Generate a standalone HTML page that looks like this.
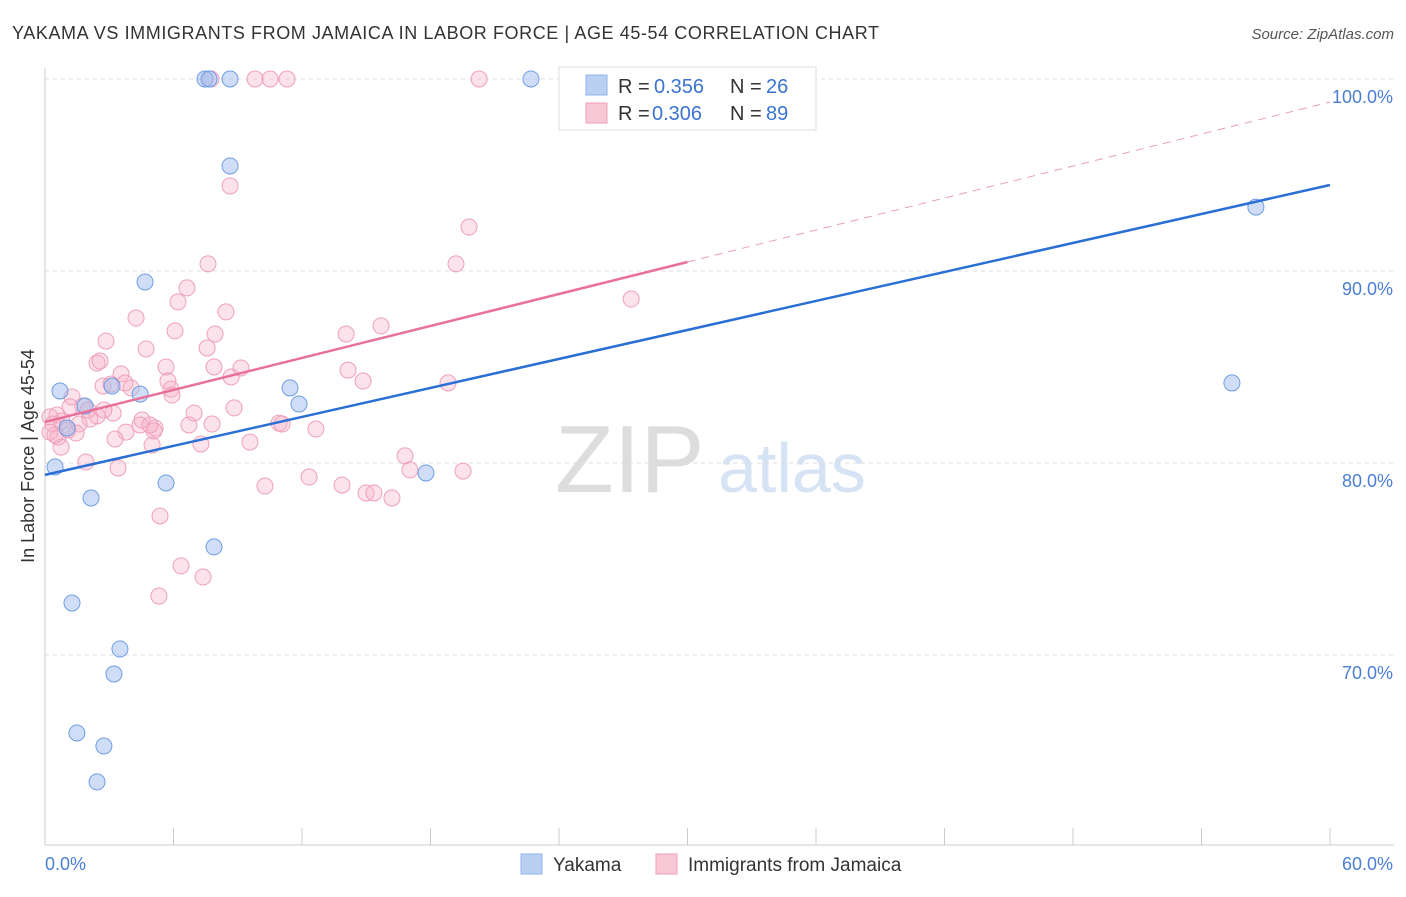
<!DOCTYPE html>
<html><head><meta charset="utf-8"><style>
body{margin:0;background:#fff;font-family:"Liberation Sans",sans-serif}
svg text{font-family:"Liberation Sans",sans-serif}
</style></head><body>
<svg id="c" width="1406" height="892" xmlns="http://www.w3.org/2000/svg">
<text x="12" y="39" font-size="18" fill="#333" textLength="867" lengthAdjust="spacing">YAKAMA VS IMMIGRANTS FROM JAMAICA IN LABOR FORCE | AGE 45-54 CORRELATION CHART</text>
<text x="1394" y="39" font-size="15" fill="#555" text-anchor="end" font-style="italic">Source: ZipAtlas.com</text>
<text x="555" y="492" font-size="96" fill="#ddd" font-family="Liberation Serif">ZIP</text>
<text x="718" y="492" font-size="70" fill="#d6e3f4">atlas</text>
<text transform="translate(34,456) rotate(-90)" font-size="18" fill="#333" text-anchor="middle">In Labor Force | Age 45-54</text>
<g id="grid"></g><g id="marks"></g>
<g>
<rect x="559" y="67" width="257" height="63" fill="#fff" stroke="#ddd"/>
<rect x="586" y="75" width="21" height="20" fill="#b9d0f3" stroke="#8fb3ea"/>
<rect x="586" y="103" width="21" height="20" fill="#f9c8d7" stroke="#ef9fba"/>
<text x="618" y="93" font-size="20" fill="#333">R =</text><text x="654" y="93" font-size="20" fill="#3b73d1">0.356</text>
<text x="730" y="93" font-size="20" fill="#333">N =</text><text x="766" y="93" font-size="20" fill="#3b73d1">26</text>
<text x="618" y="120" font-size="20" fill="#333">R =</text><text x="652" y="120" font-size="20" fill="#3b73d1">0.306</text>
<text x="730" y="120" font-size="20" fill="#333">N =</text><text x="766" y="120" font-size="20" fill="#3b73d1">89</text>
</g>
<g>
<rect x="521" y="854" width="21" height="20" fill="#b9d0f3" stroke="#8fb3ea"/>
<text x="553" y="871" font-size="19" fill="#333">Yakama</text>
<rect x="656" y="854" width="21" height="20" fill="#f9c8d7" stroke="#ef9fba"/>
<text x="688" y="871" font-size="19" fill="#333">Immigrants from Jamaica</text>
</g>
</svg>
<script>
const yTicks=[100,90,80,70];
const xTickLabels=["0.0%","60.0%"];
const blueX=[7.47,7.66,8.64,22.69,8.64,4.67,0.70,11.44,3.13,4.44,1.87,11.86,0.47,17.79,5.65,2.15,7.89,1.26,3.50,3.22,1.49,2.75,2.43,56.54,55.42,1.03];
const blueY=[100,100,100,100,95.47,89.43,83.75,83.91,84.01,83.59,82.97,83.07,79.79,79.48,78.96,78.18,75.63,72.71,70.31,69.01,65.94,65.26,63.39,93.33,84.17,81.82];
const pinkX=[7.75,9.81,10.51,11.30,20.27,8.64,19.80,7.61,19.19,6.63,6.21,27.37,8.45,4.25,15.69,14.06,6.07,7.94,2.85,4.72,7.57,2.43,2.57,5.65,9.15,7.89,14.15,3.55,8.69,14.85,5.74,5.88,3.74,18.82,2.71,4.02,5.93,3.08,1.26,1.77,3.18,1.17,2.01,6.96,8.83,2.43,2.10,4.53,0.56,0.79,4.44,0.23,0.37,1.59,5.14,6.72,7.80,10.93,11.07,12.65,3.78,5.09,1.45,0.61,3.27,9.57,7.28,5.00,0.75,16.81,1.91,3.41,17.04,19.52,12.33,10.27,13.87,14.99,15.36,16.20,5.37,6.35,7.38,5.32,0.23,0.47,1.07,4.90,2.75];
const pinkY=[100,100,100,100,100,94.43,92.29,90.37,90.37,89.12,88.39,88.54,87.87,87.55,87.14,86.72,86.88,86.72,86.35,85.94,85.99,85.21,85.31,85.00,84.95,85.00,84.84,84.64,84.48,84.27,84.27,83.85,84.17,84.17,84.01,83.91,83.54,84.11,83.44,82.97,82.60,82.92,82.76,82.60,82.87,82.45,82.29,82.24,82.50,82.19,81.98,82.40,82.03,82.03,81.82,81.98,82.03,82.08,82.03,81.77,81.61,81.67,81.56,81.35,81.25,81.09,80.99,80.94,80.83,80.37,80.05,79.74,79.64,79.58,79.27,78.80,78.85,78.44,78.44,78.18,77.24,74.64,74.06,73.07,81.61,81.46,81.72,81.98,82.76];
const blueTrend=[79.38,94.48];
const pinkTrend=[82.14,98.8];
const pinkSolidEnd=30;
const NS="http://www.w3.org/2000/svg";
const sx=v=>45+v/60*1285, sy=v=>79+(100-v)*19.2;
function mk(t,a,p){const e=document.createElementNS(NS,t);for(const k in a)e.setAttribute(k,a[k]);p.appendChild(e);return e;}
const grid=document.getElementById('grid'), marks=document.getElementById('marks');
yTicks.forEach(v=>{
 const l=mk('line',{x1:45,x2:1394,y1:sy(v),y2:sy(v),stroke:'#ddd','stroke-dasharray':'4,4'},grid);
 
 
 const t=mk('text',{x:1393,y:sy(v)+24,'font-size':18,fill:'#4a7fd4','text-anchor':'end'},grid);t.textContent=v.toFixed(1)+'%';
 
 
});
mk('line',{x1:45,x2:45,y1:68,y2:845,stroke:'#ccc'},grid);
mk('line',{x1:45,x2:1394,y1:845,y2:845,stroke:'#ccc'},grid);
for(let i=0;i<=10;i++){mk('line',{x1:sx(i*6),x2:sx(i*6),y1:828,y2:845,stroke:'#ccc'},grid);}
let t0=mk('text',{x:45,y:870,'font-size':18,fill:'#4a7fd4'},grid);t0.textContent=xTickLabels[0];


let t1=mk('text',{x:1393,y:870,'font-size':18,fill:'#4a7fd4','text-anchor':'end'},grid);t1.textContent=xTickLabels[1];


pinkX.forEach((x,i)=>{const c=mk('circle',{cx:sx(x),cy:sy(pinkY[i]),r:8,fill:'rgba(247,175,198,0.35)',stroke:'#ef9fba','stroke-width':1},marks);
 
 });
blueX.forEach((x,i)=>{const c=mk('circle',{cx:sx(x),cy:sy(blueY[i]),r:8,fill:'rgba(160,190,238,0.5)',stroke:'#6f9de3','stroke-width':1},marks);
 
 });
const bl=mk('line',{x1:sx(0),y1:sy(blueTrend[0]),x2:sx(60),y2:sy(blueTrend[1]),stroke:'#2a6fd6','stroke-width':2.5},marks);


const pm=pinkTrend[0]+(pinkTrend[1]-pinkTrend[0])*pinkSolidEnd/60;
const pl=mk('line',{x1:sx(0),y1:sy(pinkTrend[0]),x2:sx(pinkSolidEnd),y2:sy(pm),stroke:'#e8709a','stroke-width':2.5},marks);


const pd=mk('line',{x1:sx(pinkSolidEnd),y1:sy(pm),x2:sx(60),y2:sy(pinkTrend[1]),stroke:'#eaa0b8','stroke-width':1,'stroke-dasharray':'8,6'},marks);


</script>
</body></html>
